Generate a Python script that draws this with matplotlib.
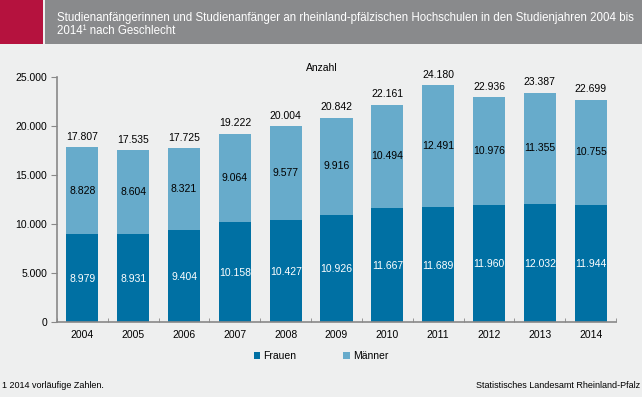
import matplotlib
matplotlib.use("Agg")
import matplotlib.pyplot as plt
from matplotlib.patches import Rectangle, Patch
import numpy as np

plt.rcParams['font.family'] = ['Liberation Sans', 'DejaVu Sans']

jahre = ['2004', '2005', '2006', '2007', '2008', '2009', '2010', '2011', '2012', '2013', '2014']
frauen = [8979, 8931, 9404, 10158, 10427, 10926, 11667, 11689, 11960, 12032, 11944]
maenner = [8828, 8604, 8321, 9064, 9577, 9916, 10494, 12491, 10976, 11355, 10755]
gesamt = [17807, 17535, 17725, 19222, 20004, 20842, 22161, 24180, 22936, 23387, 22699]

bg = '#EEEFEF'
dunkel = '#0070A3'
hell = '#67ABCB'
achse = '#888888'

def fmt(v):
    return '{:,}'.format(v).replace(',', '.')

fig = plt.figure(figsize=(6.42, 3.97), dpi=100, facecolor=bg)

# header band
fig.patches.append(Rectangle((0, 1 - 44 / 397), 43 / 642, 44 / 397, transform=fig.transFigure,
                             facecolor='#B5123E', edgecolor='none'))
fig.patches.append(Rectangle((45 / 642, 1 - 44 / 397), 1, 44 / 397, transform=fig.transFigure,
                             facecolor='#898A8C', edgecolor='none'))
fig.text(57 / 642, 1 - 18 / 397,
         'Studienanfängerinnen und Studienanfänger an rheinland-pfälzischen Hochschulen in den Studienjahren 2004 bis',
         color='white', fontsize=8.3, va='center', ha='left')
fig.text(57 / 642, 1 - 31 / 397, '2014¹ nach Geschlecht',
         color='white', fontsize=8.3, va='center', ha='left')

ax = fig.add_axes([57 / 642, 1 - 322 / 397, 559 / 642, 245 / 397])
ax.set_facecolor(bg)

x = np.arange(len(jahre))
b = 0.63
ax.bar(x, frauen, b, color=dunkel, label='Frauen', zorder=2)
ax.bar(x, maenner, b, bottom=frauen, color=hell, label='Männer', zorder=2)

for i in range(len(jahre)):
    ax.text(x[i], frauen[i] / 2 - 100, fmt(frauen[i]), ha='center', va='center', color='white', fontsize=7.5)
    ax.text(x[i], frauen[i] + maenner[i] / 2, fmt(maenner[i]), ha='center', va='center', color='black', fontsize=7.5)
    ax.text(x[i], gesamt[i] + 550, fmt(gesamt[i]), ha='center', va='bottom', color='black', fontsize=7.5)

ax.set_xlim(-0.5, len(jahre) - 0.5)
ax.set_ylim(0, 25000)
ax.set_yticks(range(0, 25001, 5000))
ax.set_yticklabels([fmt(v) for v in range(0, 25001, 5000)], fontsize=7.5)
ax.set_xticks(x)
ax.set_xticklabels(jahre, fontsize=7.5)
ax.set_xticks(np.arange(-0.5, len(jahre), 1), minor=True)
ax.tick_params(axis='x', which='major', length=0, pad=6)
ax.tick_params(axis='x', which='minor', length=3, color=achse, direction='in')
ax.tick_params(axis='y', length=4, color=achse, pad=3)
for s in ['top', 'right']:
    ax.spines[s].set_visible(False)
for s in ['left', 'bottom']:
    ax.spines[s].set_color(achse)
    ax.spines[s].set_linewidth(1.2)

fig.text(322 / 642, 1 - 68 / 397, 'Anzahl', ha='center', va='center', fontsize=7.5)

handles = [Patch(facecolor=dunkel), Patch(facecolor=hell)]
fig.legend(handles, ['Frauen', 'Männer'], loc='center', bbox_to_anchor=(0.5, 1 - 356 / 397),
           ncol=2, frameon=False, fontsize=7.5, handlelength=0.6, handleheight=0.6,
           handletextpad=0.3, columnspacing=4.5)

fig.text(2 / 642, 1 - 386 / 397, '1 2014 vorläufige Zahlen.', fontsize=6.5, va='center', ha='left')
fig.text(640 / 642, 1 - 386 / 397, 'Statistisches Landesamt Rheinland-Pfalz', fontsize=6.5,
         va='center', ha='right')

fig.savefig('out.png', dpi=100, facecolor=bg)
